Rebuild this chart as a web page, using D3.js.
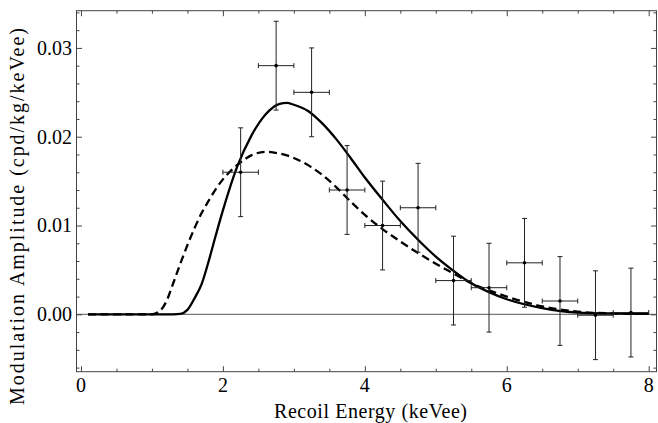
<!DOCTYPE html>
<html>
<head>
<meta charset="utf-8">
<script src="https://cdn.jsdelivr.net/npm/d3@7"></script>
</head>
<body style="margin:0">
<svg width="658" height="423"></svg>
<script>
// model curves
const energy = [0.1, 0.5, 1.0, 1.1, 1.2, 1.3, 1.4, 1.5, 1.6, 1.7, 1.8, 1.9, 2.0, 2.2, 2.4, 2.6, 2.8, 2.9, 3.0,
  3.2, 3.4, 3.6, 3.8, 4.0, 4.25, 4.5, 4.75, 5.0, 5.25, 5.5, 5.75, 6.0, 6.5, 7.0, 7.5, 8.0];
const ampSolid = [0, 0, 0, 0, 0, 0, 0.00005, 0.0005, 0.0018, 0.0034, 0.0060, 0.0089, 0.0117, 0.0166, 0.0201, 0.0225, 0.0237, 0.0238, 0.0236,
  0.0229, 0.0215, 0.0197, 0.0176, 0.0154, 0.0129, 0.0105, 0.0084, 0.0065, 0.0049, 0.0035, 0.0025, 0.0017, 0.0007, 0.0002, 0.0001, 0.00005];
const ampDashed = [0, 0, 0, 0.0003, 0.0014, 0.0035, 0.0057, 0.0078, 0.0097, 0.0114, 0.0128, 0.0141, 0.0152, 0.0168, 0.0179, 0.0183, 0.0181, 0.0179, 0.0176,
  0.0168, 0.0157, 0.0143, 0.0127, 0.0112, 0.0096, 0.0082, 0.0069, 0.0057, 0.0046, 0.0035, 0.0027, 0.0020, 0.0009, 0.0003, 0.0001, 0.00005];

// data points
const binCenter = [2.25, 2.75, 3.25, 3.75, 4.25, 4.75, 5.25, 5.75, 6.25, 6.75, 7.25, 7.75];
const binHalf = [0.25, 0.25, 0.25, 0.25, 0.25, 0.25, 0.25, 0.25, 0.25, 0.25, 0.25, 0.25];
const modAmp = [0.0160, 0.0280, 0.0250, 0.0140, 0.0100, 0.0120, 0.0038, 0.0030, 0.0058, 0.0015, -0.0001, 0.0002];
const modErr = [0.0050, 0.0050, 0.0050, 0.0050, 0.0050, 0.0050, 0.0050, 0.0050, 0.0050, 0.0050, 0.0050, 0.0050];

const xTicks = [0, 2, 4, 6, 8];
const xMinor = [0.5, 1, 1.5, 2.5, 3, 3.5, 4.5, 5, 5.5, 6.5, 7, 7.5];
const yTicks = [0, 0.01, 0.02, 0.03];
const yMinor = [-0.006, -0.004, -0.002, 0.002, 0.004, 0.006, 0.008, 0.012, 0.014, 0.016, 0.018, 0.022, 0.024, 0.026, 0.028, 0.032, 0.034];

const svg = d3.select("svg");
const fontStack = "'Liberation Serif', 'Tinos', 'FreeSerif', 'Times New Roman'";
const L = 76.5, R = 656.5, T = 10.7, B = 371.7;

const x = d3.scaleLinear().domain([-0.063, 8.11]).range([L, R]);
const y = d3.scaleLinear().domain([-0.00646, 0.03419]).range([B, T]);

// zero line
svg.append("line")
  .attr("x1", L).attr("x2", R)
  .attr("y1", y(0)).attr("y2", y(0))
  .attr("stroke", "#777").attr("stroke-width", 1.2);

// ticks pointing in, labels drawn separately
const frameCol = "#444";
function addTicks(axis, tx, ty) {
  const g = svg.append("g").attr("transform", `translate(${tx},${ty})`).call(axis);
  g.select(".domain").remove();
  g.selectAll("text").remove();
  g.selectAll("line").attr("stroke", frameCol);
}
addTicks(d3.axisBottom(x).tickValues(xTicks).tickSize(-5.5), 0, B);
addTicks(d3.axisBottom(x).tickValues(xMinor).tickSize(-3), 0, B);
addTicks(d3.axisTop(x).tickValues(xTicks).tickSize(-5.5), 0, T);
addTicks(d3.axisTop(x).tickValues(xMinor).tickSize(-3), 0, T);
addTicks(d3.axisLeft(y).tickValues(yTicks).tickSize(-5.5), L, 0);
addTicks(d3.axisLeft(y).tickValues(yMinor).tickSize(-3), L, 0);
addTicks(d3.axisRight(y).tickValues(yTicks).tickSize(-5.5), R, 0);
addTicks(d3.axisRight(y).tickValues(yMinor).tickSize(-3), R, 0);

svg.append("rect")
  .attr("x", L).attr("y", T)
  .attr("width", R - L).attr("height", B - T)
  .attr("fill", "none").attr("stroke", frameCol).attr("stroke-width", 1);

const labels = svg.append("g").style("font-family", fontStack).style("font-size", "20px");
labels.selectAll(".xl").data(xTicks).enter().append("text")
  .attr("x", d => x(d)).attr("y", 391.5)
  .attr("text-anchor", "middle")
  .text(d3.format("d"));
labels.selectAll(".yl").data(yTicks).enter().append("text")
  .attr("x", 72).attr("y", d => y(d)).attr("dy", "0.34em")
  .attr("text-anchor", "end")
  .text(d3.format(".2f"));

// curves
const line = d3.line()
  .x((d, i) => x(energy[i]))
  .y(d => y(d))
  .curve(d3.curveMonotoneX);

svg.append("path").datum(ampDashed)
  .attr("d", line)
  .attr("fill", "none").attr("stroke", "#000")
  .attr("stroke-width", 2.3).attr("stroke-dasharray", "8,4.5");

svg.append("path").datum(ampSolid)
  .attr("d", line)
  .attr("fill", "none").attr("stroke", "#000")
  .attr("stroke-width", 2.3);

// error bars
const pts = binCenter.map((c, i) => ({ x: c, dx: binHalf[i], y: modAmp[i], dy: modErr[i] }));
const eb = svg.append("g").attr("stroke", "#222").attr("stroke-width", 1);
const cap = 2.5;
pts.forEach(p => {
  const g = eb.append("g");
  g.append("line").attr("x1", x(p.x - p.dx)).attr("x2", x(p.x + p.dx)).attr("y1", y(p.y)).attr("y2", y(p.y));
  g.append("line").attr("x1", x(p.x)).attr("x2", x(p.x)).attr("y1", y(p.y - p.dy)).attr("y2", y(p.y + p.dy));
  [p.x - p.dx, p.x + p.dx].forEach(v => {
    g.append("line").attr("x1", x(v)).attr("x2", x(v)).attr("y1", y(p.y) - cap).attr("y2", y(p.y) + cap);
  });
  [p.y - p.dy, p.y + p.dy].forEach(v => {
    g.append("line").attr("x1", x(p.x) - cap).attr("x2", x(p.x) + cap).attr("y1", y(v)).attr("y2", y(v));
  });
});
svg.append("g").selectAll("circle")
  .data(pts).enter().append("circle")
  .attr("cx", d => x(d.x)).attr("cy", d => y(d.y))
  .attr("r", 1.8).attr("fill", "#000");

// titles
labels.append("text")
  .attr("x", 370.5).attr("y", 418)
  .attr("text-anchor", "middle")
  .attr("textLength", 193).attr("lengthAdjust", "spacing")
  .text("Recoil Energy (keVee)");

labels.append("text")
  .attr("transform", "translate(24,216.5) rotate(-90)")
  .attr("text-anchor", "middle")
  .attr("textLength", 377).attr("lengthAdjust", "spacing")
  .text("Modulation Amplitude (cpd/kg/keVee)");
</script>
</body>
</html>
